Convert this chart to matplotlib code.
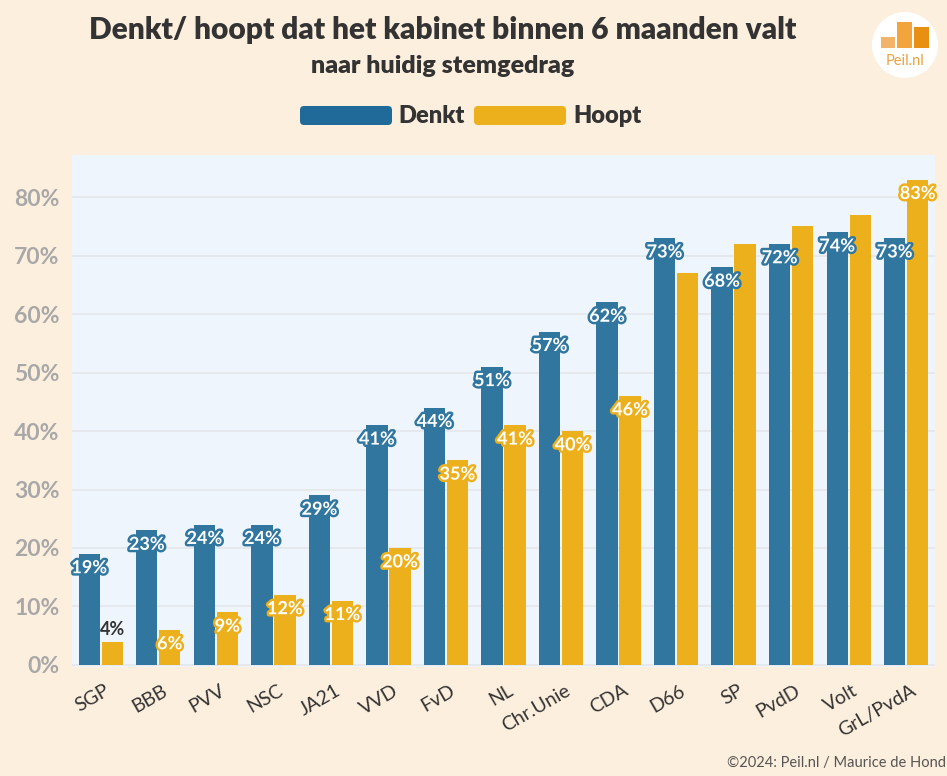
import matplotlib
matplotlib.use("Agg")
import matplotlib.pyplot as plt
import matplotlib.patheffects as pe
from matplotlib.patches import FancyBboxPatch, Circle, Rectangle
from matplotlib.transforms import ScaledTranslation
import numpy as np

categories = ["SGP", "BBB", "PVV", "NSC", "JA21", "VVD", "FvD", "NL", "Chr.Unie",
              "CDA", "D66", "SP", "PvdD", "Volt", "GrL/PvdA"]
denkt = [19, 23, 24, 24, 29, 41, 44, 51, 57, 62, 73, 68, 72, 74, 73]
hoopt = [4, 6, 9, 12, 11, 20, 35, 41, 40, 46, 67, 72, 75, 77, 83]
show_label_denkt = [True] * 15
show_label_hoopt = [True, True, True, True, True, True, True, True, True, True,
                    False, False, False, False, True]
yticks = [0, 10, 20, 30, 40, 50, 60, 70, 80]
ytick_labels = ["0%", "10%", "20%", "30%", "40%", "50%", "60%", "70%", "80%"]

BLUE = "#30769f"
GOLD = "#edb01d"
BG = "#fdefdd"
PLOTBG = "#eef5fc"
DARK = "#333333"
FONT = "Lato"

plt.rcParams['font.family'] = [FONT, 'DejaVu Sans']

W, H = 947, 776
fig = plt.figure(figsize=(W / 100, H / 100), dpi=100)
fig.patch.set_facecolor(BG)

L, R, T, B = 72, 935, 155, 667
ax = fig.add_axes([L / W, 1 - B / H, (R - L) / W, (B - T) / H])
ax.set_facecolor(PLOTBG)
for s in ax.spines.values():
    s.set_visible(False)

x = np.arange(len(categories))
bw = 0.37
off = 0.2
ax.bar(x - off, denkt, width=bw, color=BLUE, zorder=3)
ax.bar(x + off, hoopt, width=bw, color=GOLD, zorder=3)
ax.set_xlim(-0.5, len(categories) - 0.5)
ax.set_ylim(-0.35, 87.2)
ax.set_yticks(yticks)
ax.set_yticklabels(ytick_labels, fontsize=16.5, fontweight='bold', color="#a8a8a8")
ax.grid(axis='y', color="#e5e8ec", lw=1.3, zorder=0)
ax.tick_params(axis='both', length=0)
ax.tick_params(axis='y', pad=9)
ax.set_xticks(x)
ax.set_xticklabels(categories, rotation=30, ha='right', rotation_mode='anchor',
                   fontsize=14, color=DARK, va='center')
ax.tick_params(axis='x', pad=16)
shift = ScaledTranslation(8 / 100, 0, fig.dpi_scale_trans)
for t in ax.get_xticklabels():
    t.set_transform(t.get_transform() + shift)


def lab(xp, v, col, show):
    if not show:
        return
    if v < 5:
        ax.annotate(f"{v}%", (xp, v), xytext=(0, 9), textcoords='offset points',
                    ha='center', va='center', fontsize=13, fontweight='bold',
                    color=DARK, zorder=5)
    else:
        ax.annotate(f"{v}%", (xp, v), xytext=(0, -10), textcoords='offset points',
                    ha='center', va='center', fontsize=13, fontweight='bold',
                    color='white', zorder=5,
                    path_effects=[pe.withStroke(linewidth=3.5, foreground=col)])


for i in range(len(categories)):
    lab(x[i] - off, denkt[i], BLUE, show_label_denkt[i])
    lab(x[i] + off, hoopt[i], GOLD, show_label_hoopt[i])

ov = fig.add_axes([0, 0, 1, 1], facecolor='none')
ov.set_xlim(0, W)
ov.set_ylim(H, 0)
ov.axis('off')

ov.text(443, 30, "Denkt/ hoopt dat het kabinet binnen 6 maanden valt", ha='center',
        va='center', fontsize=21.5, fontweight='heavy', color=DARK)
ov.text(443, 66, "naar huidig stemgedrag", ha='center', va='center',
        fontsize=18, fontweight='heavy', color=DARK)

ov.add_patch(FancyBboxPatch((300, 106), 92, 19, boxstyle="round,pad=0,rounding_size=4",
                            fc="#1f6a98", ec='none'))
ov.text(398, 116, "Denkt", ha='left', va='center', fontsize=17, fontweight='heavy', color=DARK)
ov.add_patch(FancyBboxPatch((474, 106), 92, 19, boxstyle="round,pad=0,rounding_size=4",
                            fc=GOLD, ec='none'))
ov.text(573, 116, "Hoopt", ha='left', va='center', fontsize=17, fontweight='heavy', color=DARK)

ov.add_patch(Circle((905, 45), 33, fc='white', ec='none'))
ov.add_patch(Rectangle((881, 37), 14, 11, fc="#f2b468", ec='none'))
ov.add_patch(Rectangle((897, 22), 15, 26, fc="#f4a43c", ec='none'))
ov.add_patch(Rectangle((914, 27), 15, 21, fc="#e98f12", ec='none'))
ov.text(905, 61, "Peil.nl", ha='center', va='center', fontsize=10.5, color="#eea040")

ov.text(946, 763, "\u00a92024: Peil.nl / Maurice de Hond", ha='right', va='center',
        fontsize=10.5, color="#555555")

fig.savefig("out.png", dpi=100, facecolor=BG)
